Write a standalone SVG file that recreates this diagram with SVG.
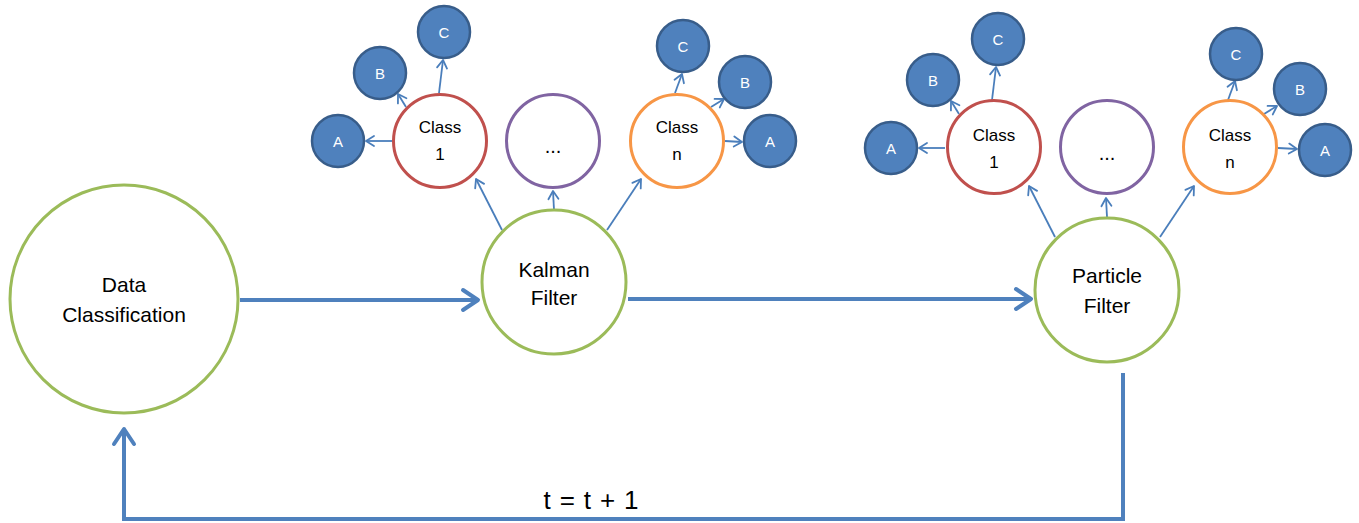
<svg xmlns="http://www.w3.org/2000/svg" width="1359" height="523" viewBox="0 0 1359 523">
<style>
.txt{font-family:"Liberation Sans",Arial,sans-serif;fill:#000;text-anchor:middle}
.big{font-size:21px}
.cls{font-size:17px}
.dots{font-size:20px}
.sat{font-family:"Liberation Sans",Arial,sans-serif;font-size:15px;fill:#fff;text-anchor:middle}
.green{fill:#fff;stroke:#9BBB59;stroke-width:3}
.red{fill:#fff;stroke:#C0504D;stroke-width:3}
.purple{fill:#fff;stroke:#8064A2;stroke-width:3}
.orange{fill:#fff;stroke:#F79646;stroke-width:3}
.blue{fill:#4F81BD;stroke:#385D8A;stroke-width:2.5}
.thick{fill:none;stroke:#4F81BD;stroke-width:4;stroke-linejoin:miter}
.thin{fill:none;stroke:#4A7EBB;stroke-width:1.8}
</style>
<defs>
<marker id="bigArrow" markerUnits="userSpaceOnUse" viewBox="-20 -14 24 28" markerWidth="24" markerHeight="28" refX="0" refY="0" orient="auto" overflow="visible">
<path d="M-15,-10 L0,0 L-15,10" fill="none" stroke="#4F81BD" stroke-width="4" stroke-linecap="round" stroke-linejoin="round"/>
</marker>
<marker id="smallArrow" markerUnits="userSpaceOnUse" viewBox="-12 -8 14 16" markerWidth="14" markerHeight="16" refX="0" refY="0" orient="auto" overflow="visible">
<path d="M-8,-5 L0,0 L-8,5" fill="none" stroke="#4A7EBB" stroke-width="1.8" stroke-linecap="round" stroke-linejoin="round"/>
</marker>
</defs>
<rect width="1359" height="523" fill="#fff"/>

<g id="connectors">
<path class="thick" d="M240,300 H478" marker-end="url(#bigArrow)"/>
<path class="thick" d="M628,299 H1031" marker-end="url(#bigArrow)"/>
<path class="thick" d="M1123,373 V519 H124 V429" marker-end="url(#bigArrow)"/>
<path class="thin" d="M502,230 L476,179" marker-end="url(#smallArrow)"/>
<path class="thin" d="M554,210 L553,191" marker-end="url(#smallArrow)"/>
<path class="thin" d="M607,230 L641,179" marker-end="url(#smallArrow)"/>
<path class="thin" d="M392,141 L366,141" marker-end="url(#smallArrow)"/>
<path class="thin" d="M406,107 L398,94" marker-end="url(#smallArrow)"/>
<path class="thin" d="M439,93 L443,60" marker-end="url(#smallArrow)"/>
<path class="thin" d="M675,93 L682,74" marker-end="url(#smallArrow)"/>
<path class="thin" d="M711,107 L724,99" marker-end="url(#smallArrow)"/>
<path class="thin" d="M725,141 L742,142" marker-end="url(#smallArrow)"/>
<path class="thin" d="M1055,237 L1029,186" marker-end="url(#smallArrow)"/>
<path class="thin" d="M1107,217 L1106,198" marker-end="url(#smallArrow)"/>
<path class="thin" d="M1160,237 L1194,186" marker-end="url(#smallArrow)"/>
<path class="thin" d="M945,148 L919,148" marker-end="url(#smallArrow)"/>
<path class="thin" d="M959,114 L951,101" marker-end="url(#smallArrow)"/>
<path class="thin" d="M992,100 L996,67" marker-end="url(#smallArrow)"/>
<path class="thin" d="M1228,100 L1235,81" marker-end="url(#smallArrow)"/>
<path class="thin" d="M1264,114 L1277,106" marker-end="url(#smallArrow)"/>
<path class="thin" d="M1278,148 L1297,149" marker-end="url(#smallArrow)"/>
<text class="txt" x="591" y="509" font-size="26" textLength="95" lengthAdjust="spacing">t = t + 1</text>
</g>

<g id="data-classification">
<circle class="green" cx="124" cy="299" r="114"/>
<text class="txt big" x="124" y="292">Data</text>
<text class="txt big" x="124" y="322">Classification</text>
</g>

<g id="kalman-filter">
<circle class="green" cx="554" cy="282" r="72"/>
<text class="txt big" x="554" y="277">Kalman</text>
<text class="txt big" x="554" y="305">Filter</text>
</g>

<g id="k-class1">
<circle class="red" cx="440" cy="141" r="46.5"/>
<text class="txt cls" x="440" y="133">Class</text>
<text class="txt cls" x="440" y="160">1</text>
</g>
<g id="k-dots">
<circle class="purple" cx="553" cy="141" r="46.5"/>
<text class="txt dots" x="553" y="153">...</text>
</g>
<g id="k-classn">
<circle class="orange" cx="677" cy="141" r="46.5"/>
<text class="txt cls" x="677" y="133">Class</text>
<text class="txt cls" x="677" y="160">n</text>
</g>
<g id="k1-a"><circle class="blue" cx="338" cy="141" r="26"/><text class="sat" x="338" y="146.5">A</text></g>
<g id="k1-b"><circle class="blue" cx="380" cy="73" r="26"/><text class="sat" x="380" y="78.5">B</text></g>
<g id="k1-c"><circle class="blue" cx="444" cy="32" r="26"/><text class="sat" x="444" y="38">C</text></g>
<g id="kn-c"><circle class="blue" cx="683" cy="46" r="26"/><text class="sat" x="683" y="51.5">C</text></g>
<g id="kn-b"><circle class="blue" cx="745" cy="82" r="26"/><text class="sat" x="745" y="87.5">B</text></g>
<g id="kn-a"><circle class="blue" cx="770" cy="141" r="26"/><text class="sat" x="770" y="146.5">A</text></g>

<g id="particle-filter">
<circle class="green" cx="1107" cy="290" r="72"/>
<text class="txt big" x="1107" y="283">Particle</text>
<text class="txt big" x="1107" y="313">Filter</text>
</g>

<g id="p-class1">
<circle class="red" cx="994" cy="147" r="46.5"/>
<text class="txt cls" x="994" y="141">Class</text>
<text class="txt cls" x="994" y="168">1</text>
</g>
<g id="p-dots">
<circle class="purple" cx="1107" cy="147" r="46.5"/>
<text class="txt dots" x="1107" y="160">...</text>
</g>
<g id="p-classn">
<circle class="orange" cx="1230" cy="147" r="46.5"/>
<text class="txt cls" x="1230" y="141">Class</text>
<text class="txt cls" x="1230" y="168">n</text>
</g>
<g id="p1-a"><circle class="blue" cx="891" cy="148" r="26"/><text class="sat" x="891" y="153.5">A</text></g>
<g id="p1-b"><circle class="blue" cx="933" cy="80" r="26"/><text class="sat" x="933" y="85.5">B</text></g>
<g id="p1-c"><circle class="blue" cx="998" cy="39" r="26"/><text class="sat" x="998" y="45">C</text></g>
<g id="pn-c"><circle class="blue" cx="1236" cy="54" r="26"/><text class="sat" x="1236" y="59.5">C</text></g>
<g id="pn-b"><circle class="blue" cx="1300" cy="89" r="26"/><text class="sat" x="1300" y="94.5">B</text></g>
<g id="pn-a"><circle class="blue" cx="1325" cy="150" r="26"/><text class="sat" x="1325" y="155.5">A</text></g>
</svg>
